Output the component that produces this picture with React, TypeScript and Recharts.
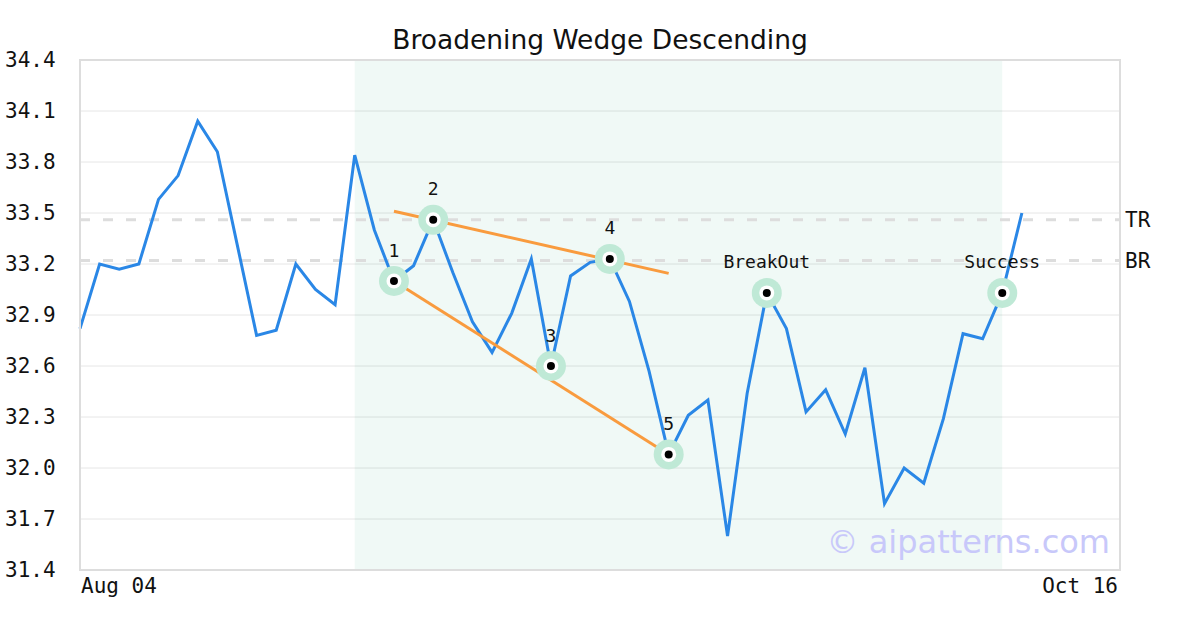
import React from 'react';
import {
  ComposedChart,
  Line,
  Scatter,
  XAxis,
  YAxis,
  CartesianGrid,
  ReferenceArea,
  ReferenceLine,
} from 'recharts';

// Daily closes, one per trading day starting Aug 04
const closes = [
  32.82, 33.2, 33.17, 33.2, 33.58, 33.72, 34.04, 33.86, 33.32, 32.78,
  32.81, 33.2, 33.05, 32.96, 33.84, 33.4, 33.1, 33.19, 33.46, 33.15,
  32.86, 32.68, 32.91, 33.23, 32.6, 33.13, 33.21, 33.23, 32.98, 32.57,
  32.08, 32.31, 32.4, 31.6, 32.44, 33.03, 32.82, 32.33, 32.46, 32.2,
  32.59, 31.79, 32.0, 31.91, 32.29, 32.79, 32.76, 33.03, 33.5,
];

// Pattern pivots (index into closes) and their labels
const pivotIdx = [16, 18, 24, 27, 30, 35, 47];
const pivotLabels = ['1', '2', '3', '4', '5', 'BreakOut', 'Success'];

// Wedge trend lines
const topLineIdx = [16, 30];
const topLineVals = [33.51, 33.145];
const bottomLineIdx = [16, 30];
const bottomLineVals = [33.1, 32.08];

// Resistance / support levels
const trLevel = 33.46;
const brLevel = 33.22;

// Pattern window
const patternStart = 14;
const patternEnd = 47;

// Axes
const xTickIdx = [0, 53];
const xTickLabels = ['Aug 04', 'Oct 16'];
const yTicks = [31.4, 31.7, 32.0, 32.3, 32.6, 32.9, 33.2, 33.5, 33.8, 34.1, 34.4];

const MONO = '"DejaVu Sans Mono", monospace';
const SANS = '"DejaVu Sans", sans-serif';

const priceData = closes.map((y, x) => ({ x, y }));
const pivotData = pivotIdx.map((x, i) => ({ x, y: closes[x], label: pivotLabels[i] }));
const topLine = topLineIdx.map((x, i) => ({ x, y: topLineVals[i] }));
const bottomLine = bottomLineIdx.map((x, i) => ({ x, y: bottomLineVals[i] }));

function Halo(props: any) {
  const { cx, cy } = props;
  return <circle cx={cx} cy={cy} r={15} fill="#bfe9d6" />;
}

function Pivot(props: any) {
  const { cx, cy, payload } = props;
  return (
    <g>
      <circle cx={cx} cy={cy} r={7.5} fill="#ffffff" />
      <circle cx={cx} cy={cy} r={4} fill="#000000" />
      <text
        x={cx}
        y={cy - 31}
        textAnchor="middle"
        dominantBaseline="central"
        fontFamily={MONO}
        fontSize={18}
        fill="#111"
      >
        {payload.label}
      </text>
    </g>
  );
}

function YTick(props: any) {
  const { y, payload } = props;
  return (
    <text x={5} y={y} textAnchor="start" dominantBaseline="central" fontFamily={MONO} fontSize={21} fill="#111">
      {Number(payload.value).toFixed(1)}
    </text>
  );
}

function XTick(props: any) {
  const { x, y, payload } = props;
  const i = xTickIdx.indexOf(payload.value);
  return (
    <text
      x={i === 0 ? x + 1 : x - 2}
      y={y + 8}
      textAnchor={i === 0 ? 'start' : 'end'}
      dominantBaseline="central"
      fontFamily={MONO}
      fontSize={21}
      fill="#111"
    >
      {xTickLabels[i]}
    </text>
  );
}

export default function App() {
  return (
    <div style={{ position: 'absolute', left: 0, top: 0, width: 1200, height: 630, background: '#fff' }}>
      <div
        style={{
          position: 'absolute',
          left: 0,
          top: 23,
          width: 1200,
          textAlign: 'center',
          fontFamily: SANS,
          fontSize: 26.5,
          lineHeight: '34px',
          color: '#111',
        }}
      >
        Broadening Wedge Descending
      </div>
      <ComposedChart
        width={1200}
        height={630}
        data={priceData}
        margin={{ top: 60, right: 80, left: 0, bottom: 0 }}
      >
        <ReferenceArea
          x1={patternStart}
          x2={patternEnd}
          fill="#00a060"
          fillOpacity={0.06}
          stroke="none"
        />
        <CartesianGrid vertical={false} stroke="#e6e6e6" strokeWidth={1} />
        <XAxis
          dataKey="x"
          type="number"
          domain={[0, 53]}
          ticks={xTickIdx}
          axisLine={false}
          tickLine={false}
          height={60}
          tick={<XTick />}
        />
        <YAxis
          dataKey="y"
          type="number"
          domain={[31.4, 34.4]}
          ticks={yTicks}
          axisLine={false}
          tickLine={false}
          width={80}
          tick={<YTick />}
        />
        <ReferenceLine
          y={trLevel}
          stroke="#dddddd"
          strokeWidth={3}
          strokeDasharray="10 13"
          label={{ value: 'TR', position: 'right', fontFamily: MONO, fontSize: 21, fill: '#111' }}
        />
        <ReferenceLine
          y={brLevel}
          stroke="#dddddd"
          strokeWidth={3}
          strokeDasharray="10 13"
          label={{ value: 'BR', position: 'right', fontFamily: MONO, fontSize: 21, fill: '#111' }}
        />
        <Scatter data={pivotData} dataKey="y" shape={<Halo />} isAnimationActive={false} />
        <Line
          dataKey="y"
          stroke="#2a87e6"
          strokeWidth={3}
          dot={false}
          activeDot={false}
          isAnimationActive={false}
        />
        <Line
          data={topLine}
          dataKey="y"
          stroke="#f99b3e"
          strokeWidth={3}
          dot={false}
          activeDot={false}
          isAnimationActive={false}
        />
        <Line
          data={bottomLine}
          dataKey="y"
          stroke="#f99b3e"
          strokeWidth={3}
          dot={false}
          activeDot={false}
          isAnimationActive={false}
        />
        <Scatter data={pivotData} dataKey="y" shape={<Pivot />} isAnimationActive={false} />
      </ComposedChart>
      <div
        style={{
          position: 'absolute',
          left: 79,
          top: 59,
          width: 1038,
          height: 508,
          border: '2px solid #dddddd',
          pointerEvents: 'none',
        }}
      />
      <div
        style={{
          position: 'absolute',
          right: 90,
          top: 520,
          fontFamily: SANS,
          fontSize: 32,
          lineHeight: '44px',
          color: '#c8c8fa',
          pointerEvents: 'none',
        }}
      >
        © aipatterns.com
      </div>
    </div>
  );
}
